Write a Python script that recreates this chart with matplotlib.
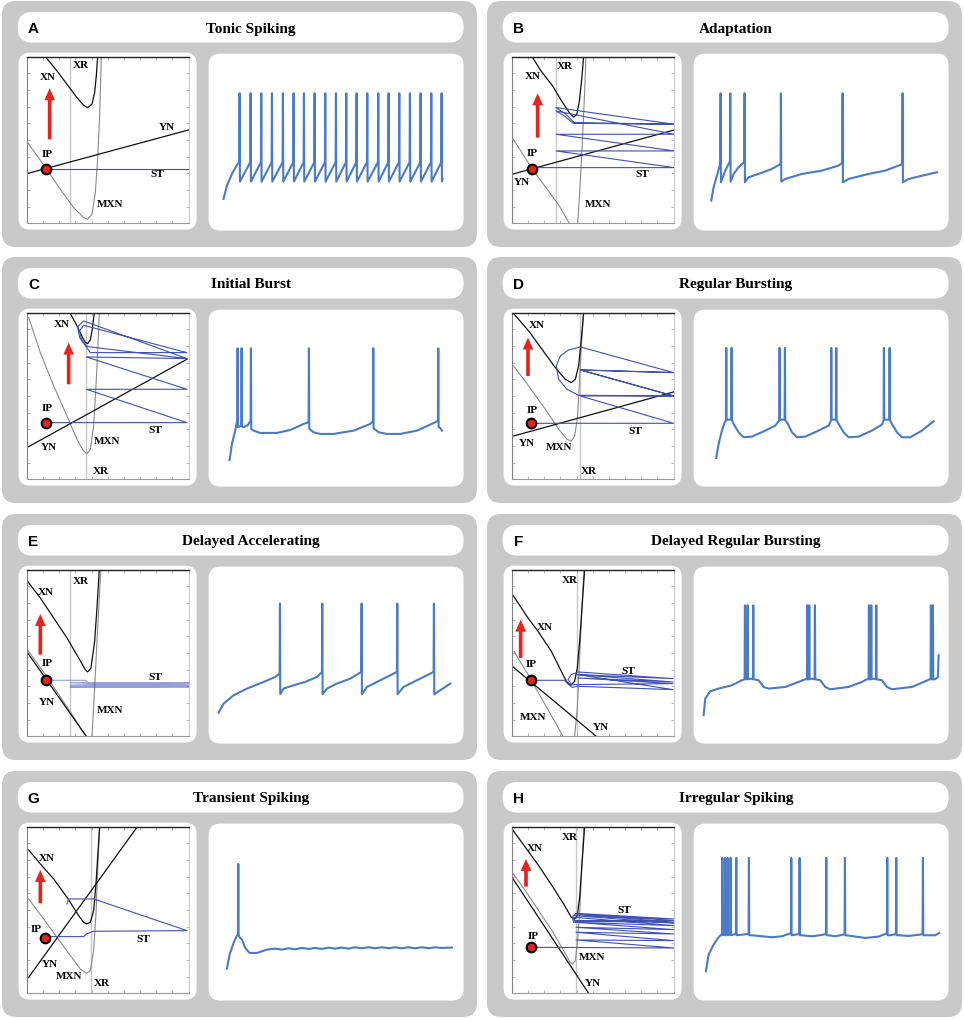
import matplotlib
matplotlib.use('Agg')
import matplotlib.pyplot as plt
from matplotlib.patches import FancyBboxPatch, FancyArrow
import numpy as np

W, H = 964, 1020

letters = ['A', 'B', 'C', 'D', 'E', 'F', 'G', 'H']
titles = ['Tonic Spiking', 'Adaptation', 'Initial Burst', 'Regular Bursting',
          'Delayed Accelerating', 'Delayed Regular Bursting',
          'Transient Spiking', 'Irregular Spiking']

# ---- phase plane curves (x: voltage-like, y: recovery-like, arbitrary units) ----
a_xn = [(55,500),(90,457),(120,417),(150,377),(170,354),(182,347),(195,357),(203,392),(208,442),(212,500)]
a_mxn = [(2,242),(58,164),(100,102),(140,47),(170,17),(182,12),(195,27),(205,92),(212,192),(218,322),(223,500)]
a_yn = [(0,149),(485,280)]
a_xr = 128
a_st = [(58,164),(485,164)]
a_ip = (58,164)
a_arrow = (68,252,405)
a_labels = [('XN',62,440),('XR',160,475),('YN',420,289),('IP',60,210),('ST',390,149),('MXN',250,60)]

b_xn = [(62,497),(87,457),(122,412),(152,362),(172,332),(184,319),(194,325),(202,365),(210,440),(215,500)]
b_mxn = [(4,252),(60,164),(102,107),(142,52),(172,0),(185,-30),(197,0),(202,72),(210,222),(217,372),(222,500)]
b_yn = [(0,147),(487,280)]
b_xr = 132
b_st = [(60,167),(487,167),(132,217),(487,217),(132,267),(487,267),(132,337),(157,322),(184,300),
        (487,297),(132,347),(162,327),(187,302),(487,297)]
b_ip = (60,164)
b_arrow = (77,257,390)
b_labels = [('XN',62,442),('XR',159,474),('IP',62,212),('YN',30,124),('ST',392,150),('MXN',257,60)]

c_xn = [(130,497),(145,470),(155,450),(168,422),(176,410),(182,407),(190,418),(196,450),(202,500)]
c_mxn = [(5,485),(40,380),(80,280),(120,190),(150,120),(170,85),(180,77),(190,90),(200,160),(207,280),(212,380),(217,500)]
c_yn = [(5,98),(480,360)]
c_xr = 178
c_st = [(58,170),(480,170),(178,270),(480,270),(178,367),(480,362),(170,475),(152,458),(158,425),(190,380),
        (480,380),(170,462),(158,445),(165,415),(182,398),(480,362)]
c_ip = (58,168)
c_arrow = (125,285,410)
c_labels = [('XN',105,467),('IP',60,215),('YN',65,98),('MXN',240,115),('ST',385,150),('XR',220,25)]

d_xn = [(5,497),(50,445),(90,390),(130,335),(160,300),(178,290),(190,300),(200,340),(208,420),(215,500)]
d_mxn = [(5,340),(50,280),(100,210),(140,150),(165,120),(178,115),(188,130),(196,180),(202,280),(208,400),(215,500)]
d_yn = [(5,130),(485,262)]
d_xr = 203
d_st = [(58,168),(485,168),(205,250),(485,250),(205,328),(485,320),(205,397),(170,388),(145,370),(133,340),
        (140,300),(165,270),(200,252),(485,250),(205,328),(485,320)]
d_ip = (58,168)
d_arrow = (48,310,425)
d_labels = [('XN',75,465),('IP',60,208),('YN',45,110),('MXN',140,98),('ST',370,145),('XR',230,25)]

e_xn = [(0,467),(40,415),(80,355),(120,295),(155,235),(175,200),(182,193),(192,205),(203,285),(210,385),(217,500)]
e_mxn = [(0,262),(50,192),(100,118),(140,58),(165,18),(178,0),(186,-8),(195,0),(202,125),(210,285),(218,435),(222,500)]
e_yn = [(0,253),(180,-3)]
e_xr = 130
e_st = [(58,168),(175,168),(185,158),(485,158),(130,154),(485,154),(130,150),(485,150),(130,147),(485,147),
        (130,161),(485,161)]
e_ip = (58,168)
e_arrow = (40,245,367)
e_labels = [('XN',55,435),('XR',160,467),('IP',60,220),('YN',60,105),('ST',385,180),('MXN',250,80)]

f_xn = [(3,423),(48,355),(78,315),(118,255),(148,195),(163,165),(176,153),(188,165),(196,205),(203,285),(210,385),(218,500)]
f_mxn = [(6,255),(48,185),(88,115),(128,45),(153,0),(170,-15),(188,0),(196,85),(203,235),(210,385),(216,500)]
f_yn = [(3,208),(253,0)]
f_xr = 196
f_st = [(56,168),(158,168),(168,157),(180,147),(198,150),(483,140),(198,185),(483,173),(198,193),(178,185),
        (168,170),(180,155),(483,158),(198,175),(483,163),(198,185)]
f_ip = (56,168)
f_arrow = (26,235,350)
f_labels = [('XN',98,328),('IP',58,218),('ST',348,198),('MXN',63,60),('YN',268,30),('XR',173,470)]

g_xn = [(5,430),(40,388),(80,343),(120,288),(155,233),(170,213),(178,208),(190,213),(200,248),(207,328),(212,408),(218,500)]
g_mxn = [(5,283),(50,223),(90,168),(130,113),(160,73),(178,60),(190,68),(200,128),(207,238),(213,388),(218,500)]
g_yn = [(5,48),(330,498)]
g_xr = 192
g_st = [(70,170),(170,170),(178,178),(200,186),(480,188),(200,283),(125,283),(120,268)]
g_ip = (55,166)
g_arrow = (40,270,370)
g_labels = [('XN',60,406),('IP',28,193),('YN',70,90),('MXN',125,53),('ST',350,163),('XR',225,31)]

h_xn = [(0,493),(40,438),(80,383),(120,323),(155,268),(178,228),(188,223),(196,233),(203,288),(210,388),(218,500)]
h_mxn = [(0,363),(40,308),(80,248),(120,188),(155,128),(175,93),(182,88),(190,98),(196,148),(203,238),(210,388),(216,500)]
h_yn = [(0,348),(230,0)]
h_xr = 192
h_st = [(58,138),(485,136),(192,160),(485,158),(192,183),(485,178),(192,198),(485,191),(190,213),(485,203),
        (188,228),(182,223),(185,213),(195,216),(485,213),(190,238),(182,230),(188,218),(485,218),(192,240),
        (485,223),(188,233),(485,210)]
h_ip = (58,138)
h_arrow = (42,320,403)
h_labels = [('XN',68,438),('IP',65,173),('ST',338,251),('MXN',240,110),('YN',242,33),('XR',172,470)]

# ---- voltage traces: baseline points, spikes (time, before, after), spike peak ----
a_base = [(45,95),(55,135),(70,170),(87,200),(702,155)]
a_spike_t = [92,125,157,189,222,254,285,317,349,381,412,443,475,508,539,571,603,635,667,698]
a_spikes = [(t, 205, 147) for t in a_spike_t]
a_peak = 412

b_base = [(53,90),(60,130),(70,165),(78,195),(95,180),(105,200),(120,170),(135,190),(148,203),
          (165,160),(195,170),(235,185),(258,198),(275,155),(325,170),(385,180),(435,195),
          (465,155),(525,170),(575,180),(620,197),(645,155),(695,167),(730,175)]
b_spikes = [(80,205,145),(109,208,147),(152,205,145),(261,200,147),(446,203,145),(626,200,145)]
b_peak = 412

c_base = [(63,80),(70,128),(80,168),(84,190),(92,180),(105,178),(118,185),(135,168),(155,161),
          (205,161),(245,170),(285,188),(315,163),(335,158),(375,158),(435,168),(485,188),
          (510,163),(535,158),(575,158),(625,168),(680,193),(695,176),(700,168)]
c_spikes = [(86,198,178),(98,183,180),(126,198,173),(300,193,173),(493,196,175),(688,198,178)]
c_peak = 415

d_base = [(68,86),(75,128),(85,168),(93,192),(120,188),(135,163),(150,148),(175,150),(215,168),
          (245,183),(254,195),(282,190),(295,163),(310,148),(335,150),(375,168),(405,183),
          (435,188),(450,163),(465,148),(495,150),(535,168),(565,186),(595,188),(610,163),
          (625,148),(650,148),(685,168),(720,196)]
d_spikes = [(97,198,201),(113,201,200),(257,198,201),(273,201,200),(412,198,201),(427,201,200),
            (570,198,201),(587,201,200)]
d_peak = 416

e_base = [(30,93),(45,120),(75,145),(115,165),(165,185),(200,200),(225,165),(255,175),(290,185),
          (325,200),(355,165),(385,180),(425,195),(450,210),(475,170),(515,190),(555,210),
          (585,170),(625,190),(665,210),(695,160),(725,180)]
e_spikes = [(213,210,148),(340,215,148),(458,215,148),(565,215,148),(675,215,148)]
e_peak = 420

f_base = [(30,85),(35,135),(50,157),(75,165),(115,175),(145,190),(157,195),(170,195),(195,190),
          (210,170),(225,165),(275,170),(315,185),(335,193),(355,195),(380,190),(395,170),
          (410,163),(465,170),(505,185),(520,193),(540,195),(565,190),(580,170),(595,163),
          (655,170),(695,187),(708,193),(725,193),(733,200),(735,265)]
f_spikes = [(153,193,193),(161,193,193),(178,193,193),(340,193,193),(346,193,193),(363,193,193),
            (525,193,193),(532,193,193),(547,193,193),(711,193,193),(717,193,193)]
f_peak = 415

g_base = [(55,96),(63,138),(75,173),(85,195),(93,190),(100,183),(110,158),(123,143),(145,143),
          (175,153),(200,156),(220,153),(240,157),(260,154),(280,158),(300,155),(320,158),
          (340,155),(360,159),(380,156),(400,159),(420,156),(440,160),(460,157),(480,160),
          (500,157),(520,160),(540,157),(560,160),(580,157),(600,160),(620,157),(640,160),
          (660,157),(680,160),(700,158),(730,159)]
g_spikes = [(88,198,198)]
g_peak = 410

h_base = [(37,88),(45,138),(60,168),(75,190),(175,196),(205,193),(235,190),(265,193),(285,200),
          (325,196),(355,193),(385,197),(405,196),(425,193),(445,197),(465,195),(515,188),
          (555,192),(575,200),(590,196),(600,198),(615,196),(645,194),(680,198),(695,196),
          (725,196),(737,203)]
h_spikes = [(85,200,196),(93,200,196),(101,200,196),(110,200,196),(127,200,196),(165,200,196),
            (292,203,196),(317,200,196),(397,200,196),(453,200,196),(580,203,196),(607,200,196),
            (687,200,196)]
h_peak = 428

st_alpha = [1, 1, 1, 1, 0.55, 1, 1, 1]

panels = [
    (a_xn, a_mxn, a_yn, a_xr, a_st, a_ip, a_arrow, a_labels, a_base, a_spikes, a_peak),
    (b_xn, b_mxn, b_yn, b_xr, b_st, b_ip, b_arrow, b_labels, b_base, b_spikes, b_peak),
    (c_xn, c_mxn, c_yn, c_xr, c_st, c_ip, c_arrow, c_labels, c_base, c_spikes, c_peak),
    (d_xn, d_mxn, d_yn, d_xr, d_st, d_ip, d_arrow, d_labels, d_base, d_spikes, d_peak),
    (e_xn, e_mxn, e_yn, e_xr, e_st, e_ip, e_arrow, e_labels, e_base, e_spikes, e_peak),
    (f_xn, f_mxn, f_yn, f_xr, f_st, f_ip, f_arrow, f_labels, f_base, f_spikes, f_peak),
    (g_xn, g_mxn, g_yn, g_xr, g_st, g_ip, g_arrow, g_labels, g_base, g_spikes, g_peak),
    (h_xn, h_mxn, h_yn, h_xr, h_st, h_ip, h_arrow, h_labels, h_base, h_spikes, h_peak),
]

GRAY = '#c9c9ca'
RED = '#e8231d'
ST_BLUE = '#4050b4'
TRACE = '#4a7bc4'
SERIF = 'Liberation Serif'
SANS = 'Liberation Sans'


def trace_pts(base, spikes, peak):
    pts = list(base)
    for t, vb, va in spikes:
        pts += [(t, vb), (t + 1, peak), (t + 2, va)]
    pts.sort(key=lambda q: q[0])
    return [q[0] for q in pts], [q[1] for q in pts]


def frac(x, y, w, h):
    return [x / W, 1 - (y + h) / H, w / W, h / H]


fig = plt.figure(figsize=(W / 100, H / 100), dpi=100)
bg = fig.add_axes([0, 0, 1, 1])
bg.set_xlim(0, W)
bg.set_ylim(H, 0)
bg.axis('off')

col_x = [2, 487]
row_y = [2, 258, 515, 772]

for i, (xn, mxn, yn, xr, st, ip, arr, labels, base, spikes, peak) in enumerate(panels):
    bx = col_x[i % 2]
    by = row_y[i // 2]
    bg.add_patch(FancyBboxPatch((bx, by), 475, 246, boxstyle='round,pad=0,rounding_size=14',
                                fc=GRAY, ec='none'))
    bg.add_patch(FancyBboxPatch((bx + 15.6, by + 11), 446, 30.6, boxstyle='round,pad=0,rounding_size=15',
                                fc='white', ec='none'))
    bg.add_patch(FancyBboxPatch((bx + 16.6, by + 51.6), 178, 177, boxstyle='round,pad=0,rounding_size=11',
                                fc='white', ec='none'))
    bg.add_patch(FancyBboxPatch((bx + 206.6, by + 52.6), 255, 177, boxstyle='round,pad=0,rounding_size=12',
                                fc='white', ec='none'))
    bg.text(bx + 31.5, by + 27, letters[i], ha='center', va='center', fontsize=11,
            fontweight='bold', family=SANS)
    bg.text(bx + 249, by + 27, titles[i], ha='center', va='center', fontsize=11,
            fontweight='bold', family=SERIF)

    # phase plane
    ax = fig.add_axes(frac(bx + 25, by + 55.6, 161.6, 166.7))
    ax.set_xlim(0, 485)
    ax.set_ylim(0, 500)
    ax.set_xticks(np.arange(0, 486, 48.5))
    ax.set_yticks(np.arange(0, 501, 50))
    ax.tick_params(direction='in', length=2, width=0.5, colors='#999999', top=True, right=True,
                   labelbottom=False, labelleft=False)
    for side, c, lw in [('top', '#222222', 1.0), ('left', '#808080', 0.8),
                        ('right', '#bbbbbb', 0.6), ('bottom', '#999999', 0.8)]:
        ax.spines[side].set_color(c)
        ax.spines[side].set_linewidth(lw)
    ax.axvline(xr, color='#c8c8c8', lw=1.0, zorder=1)
    ax.plot(*zip(*mxn), color='#8a8a8a', lw=0.8, zorder=2)
    ax.plot(*zip(*xn), color='#111111', lw=0.9, zorder=2)
    ax.plot(*zip(*yn), color='#111111', lw=0.9, zorder=2)
    ax.plot(*zip(*st), color=ST_BLUE, lw=0.8, alpha=st_alpha[i], zorder=3)
    ax.add_patch(FancyArrow(arr[0], arr[1], 0, arr[2] - arr[1], width=11, head_width=32,
                            head_length=36, length_includes_head=True, color=RED, lw=0, zorder=4))
    ax.scatter([ip[0]], [ip[1]], s=48, c=RED, edgecolors='black', linewidths=1.5, zorder=6)
    for txt, lx, ly in labels:
        ax.text(lx, ly, txt, ha='center', va='center', fontsize=8, fontweight='bold',
                family=SERIF, zorder=7)

    # voltage trace
    tx = fig.add_axes(frac(bx + 206.6, by + 52.6, 255, 177))
    tx.set_xlim(0, 765)
    tx.set_ylim(0, 531)
    tx.axis('off')
    t, v = trace_pts(base, spikes, peak)
    tx.plot(t, v, color=TRACE, lw=1.5, solid_joinstyle='round')

fig.savefig('out.png', dpi=100)
